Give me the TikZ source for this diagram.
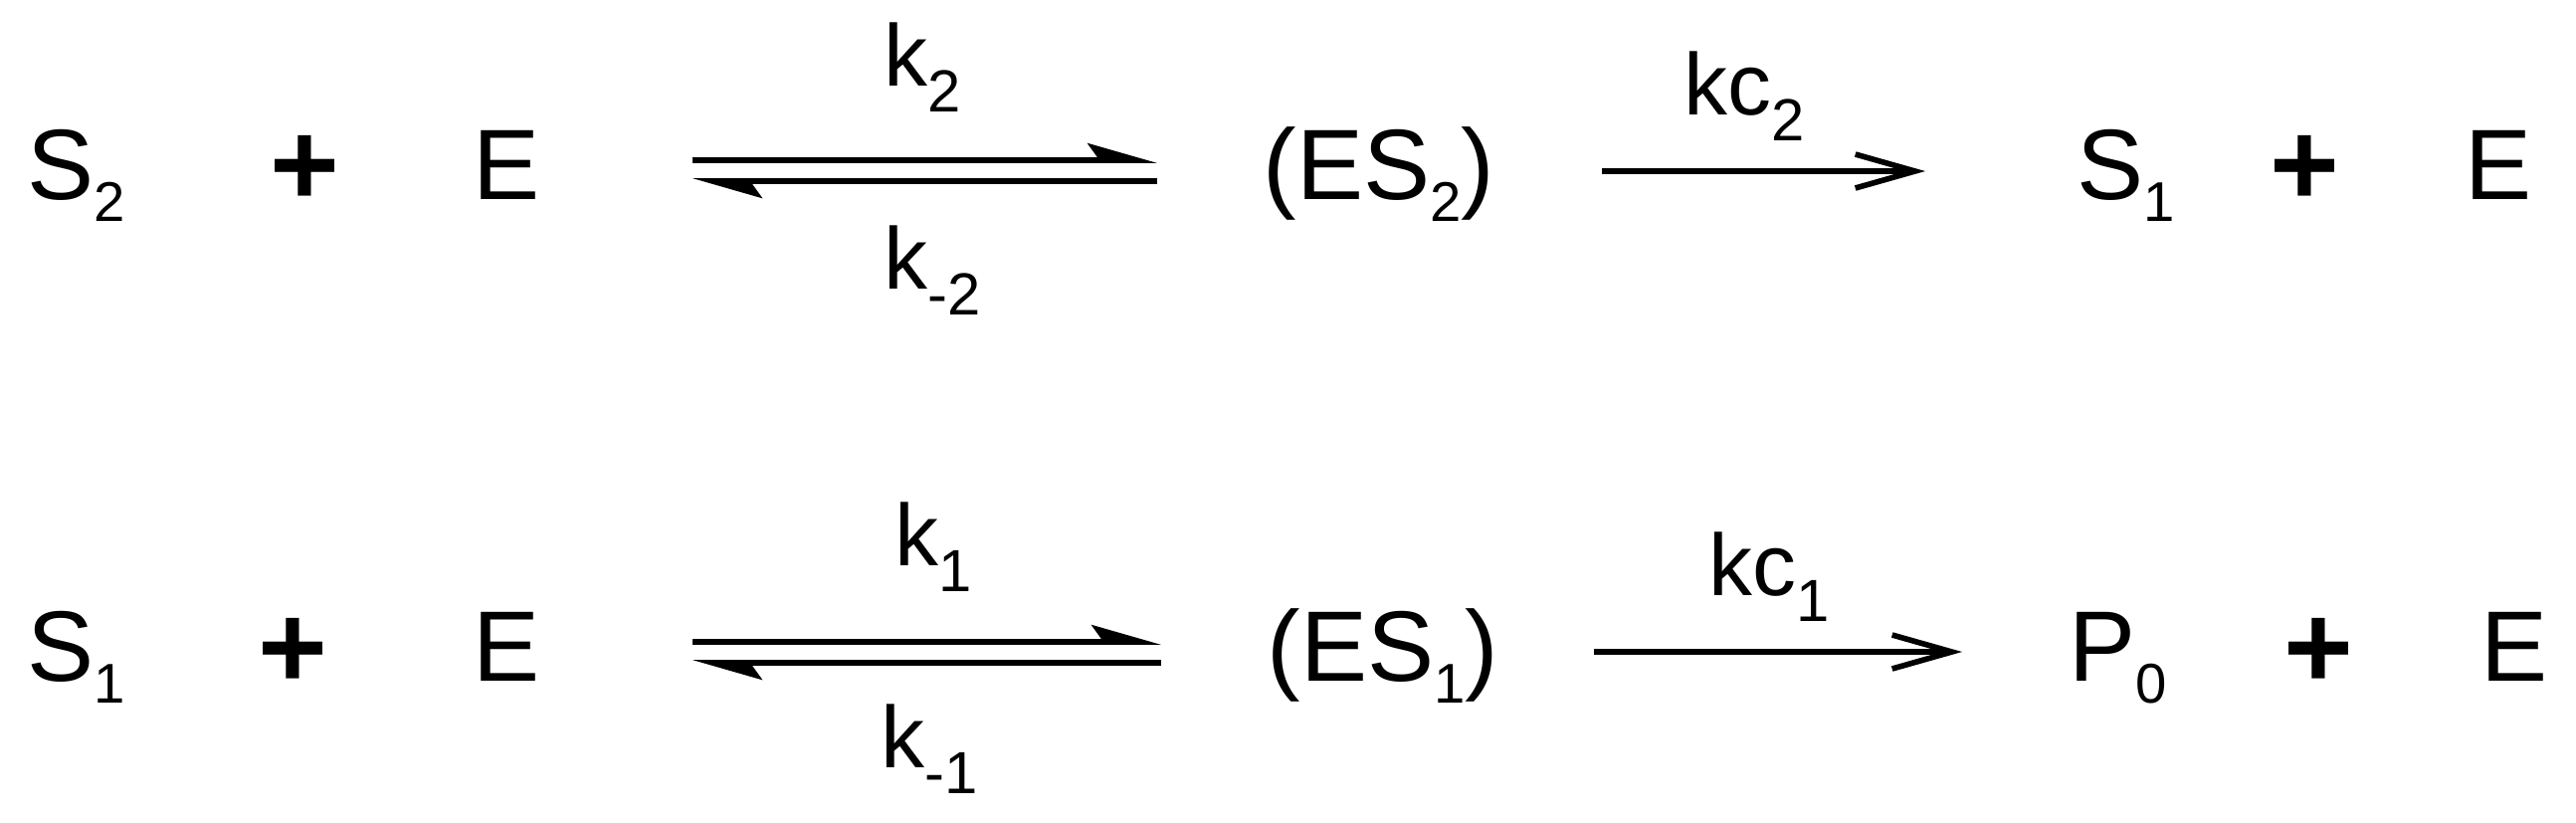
\documentclass[tikz,border=0pt]{standalone}
\usepackage{fontspec}
\setmainfont{Liberation Sans}
\usetikzlibrary{arrows.meta}

\newcommand{\lo}[1]{\raisebox{-6.5pt}{\fontsize{16}{18}\selectfont #1}}
\newcommand{\klo}[1]{\raisebox{-7.5pt}{\fontsize{17}{19}\selectfont #1}}

\tikzset{
	species/.style={inner sep=0, anchor=base west, font=\fontsize{28.6}{34}\selectfont},
	plussign/.style={inner sep=0, font=\fontsize{34}{40}\selectfont\bfseries},
	rate/.style={inner sep=0, anchor=base west, font=\fontsize{25}{30}\selectfont},
	harp/.style={line width=1.6pt, -{Stealth[left,length=6mm,width=3.4mm,inset=1.2mm]}},
	go/.style={line width=1.6pt, -{Straight Barb[length=6mm,width=3.4mm]}},
}

\begin{document}
\begin{tikzpicture}[x=0.01cm, y=-0.01cm]
	\useasboundingbox (0,0) rectangle (2589,826);
	%first step
	\node[species] (s2) at (27,200) {S\lo{2}};
	\node[plussign] (pl2a) at (306,171) {+};
	\node[species] (e2a) at (475,200) {E};
	\node[species] (es2) at (1269,200) {(ES\lo{2})};
	\node[species] (s1b) at (2087,200) {S\lo{1}};
	\node[plussign] (pl2b) at (2316,171) {+};
	\node[species] (e2b) at (2477,200) {E};
	%second step
	\node[species] (s1) at (27,684) {S\lo{1}};
	\node[plussign] (pl1a) at (294,656) {+};
	\node[species] (e1a) at (475,684) {E};
	\node[species] (es1) at (1273,684) {(ES\lo{1})};
	\node[species] (p0) at (2079,684) {P\lo{0}};
	\node[plussign] (pl1b) at (2330,656) {+};
	\node[species] (e1b) at (2493,684) {E};
	%arrow ends
	\coordinate (f2l) at (696,161);
	\coordinate (f2r) at (1163,161);
	\coordinate (b2l) at (696,182);
	\coordinate (b2r) at (1163,182);
	\coordinate (c2l) at (1610,172);
	\coordinate (c2r) at (1935,172);
	\coordinate (f1l) at (696,645);
	\coordinate (f1r) at (1167,645);
	\coordinate (b1l) at (696,666);
	\coordinate (b1r) at (1167,666);
	\coordinate (c1l) at (1602,655);
	\coordinate (c1r) at (1972,655);
	%arrows
	\draw[harp] (f2l) -- (f2r);
	\draw[harp] (b2r) -- (b2l);
	\draw[go] (c2l) -- (c2r);
	\draw[harp] (f1l) -- (f1r);
	\draw[harp] (b1r) -- (b1l);
	\draw[go] (c1l) -- (c1r);
	%rate constants
	\node[rate] (k2) at (888,86) {k\klo{2}};
	\node[rate] (km2) at (888,290) {k\klo{-2}};
	\node[rate] (kc2) at (1692,115) {kc\klo{2}};
	\node[rate] (k1) at (899,568) {k\klo{1}};
	\node[rate] (km1) at (885,771) {k\klo{-1}};
	\node[rate] (kc1) at (1717,598) {kc\klo{1}};
\end{tikzpicture}
\end{document}
